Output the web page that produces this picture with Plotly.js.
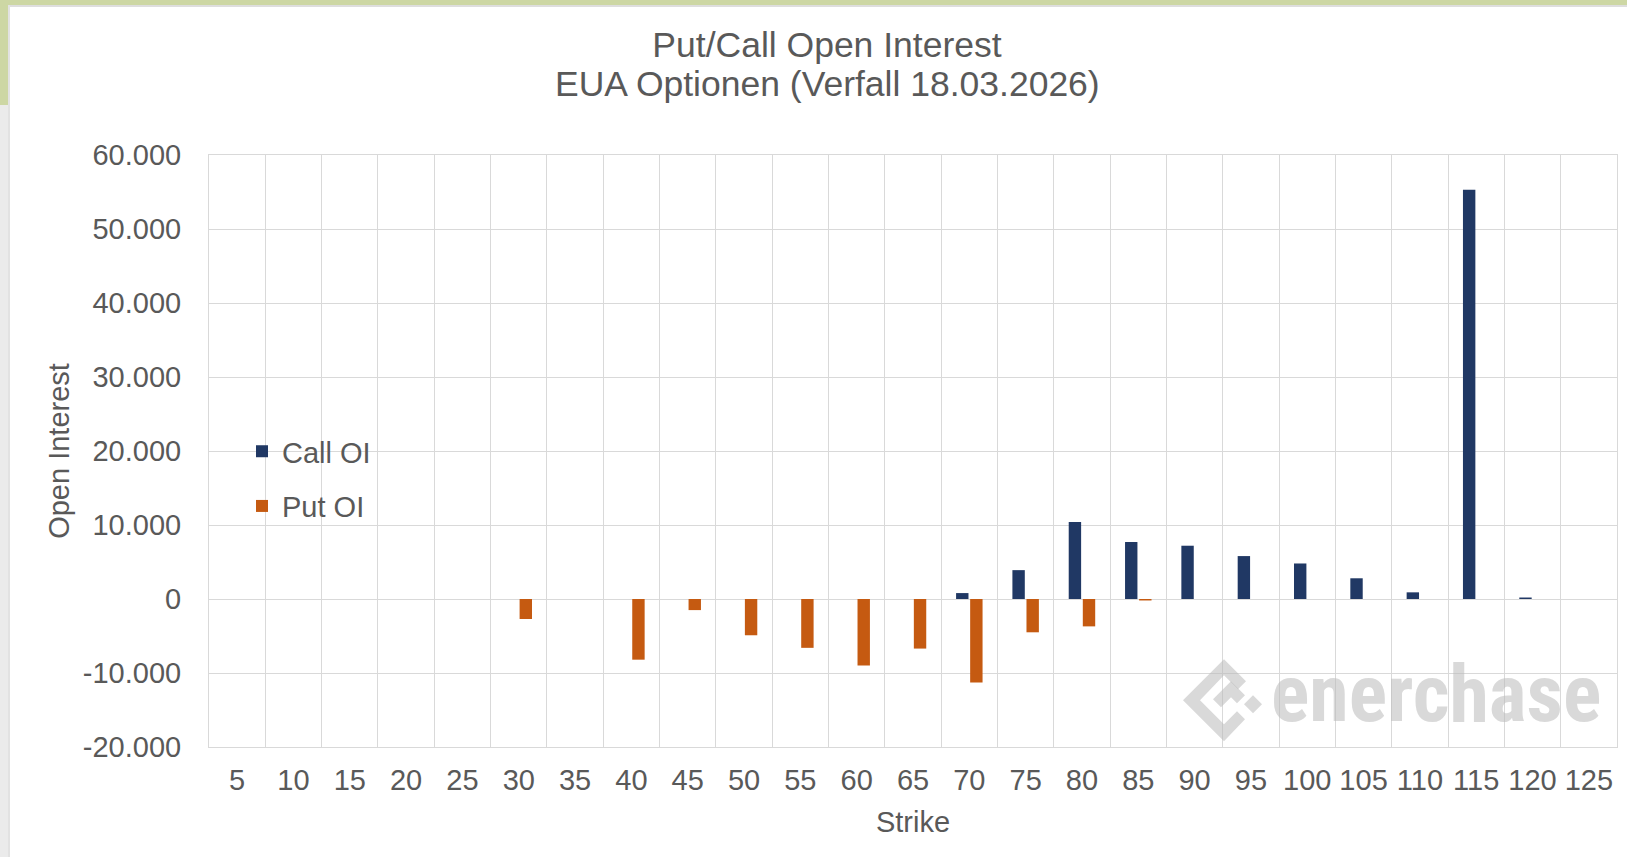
<!DOCTYPE html>
<html>
<head>
<meta charset="utf-8">
<script src="https://cdn.plot.ly/plotly-3.0.1.min.js"></script>
<style>
  html, body { margin: 0; padding: 0; background: #ffffff; }
  #wrap { position: relative; width: 1627px; height: 857px; overflow: hidden; background: #ffffff; }
  .deco { position: absolute; }
  #chart { position: absolute; left: 0; top: 0; width: 1627px; height: 857px; }
</style>
</head>
<body>
<div id="wrap">
  <div class="deco" style="left:0;top:0;width:1627px;height:5px;background:#cdd7a4;"></div>
  <div class="deco" style="left:0;top:5px;width:1627px;height:2px;background:#dedede;"></div>
  <div class="deco" style="left:0;top:0;width:8px;height:105px;background:#cdd7a4;"></div>
  <div class="deco" style="left:0;top:105px;width:8px;height:752px;background:#ebebeb;"></div>
  <div class="deco" style="left:8px;top:5px;width:2px;height:852px;background:#e2e2e2;"></div>
  <div id="chart"></div>
</div>
<script>
// ---- data ----
var strikes = ['5','10','15','20','25','30','35','40','45','50','55','60','65','70','75','80','85','90','95','100','105','110','115','120','125'];
var callOI  = [0,0,0,0,0,0,0,0,0,0,0,0,0,800,3900,10400,7700,7200,5800,4800,2800,900,55300,200,0];
var putOI   = [0,0,0,0,0,-2700,0,-8200,-1500,-4900,-6600,-9000,-6700,-11300,-4500,-3700,-200,0,0,0,0,0,0,0,0];
var yTickVals = [-20000,-10000,0,10000,20000,30000,40000,50000,60000];
var yTickText = ['-20.000','-10.000','0','10.000','20.000','30.000','40.000','50.000','60.000'];
var titleLine1 = 'Put/Call Open Interest';
var titleLine2 = 'EUA Optionen (Verfall 18.03.2026)';

// ---- layout geometry (pixels) ----
var W = 1627, H = 857;
var L = 209, R = 1617, T = 154.5, B = 746.7;
function px(x){ return (x - L) / (R - L); }
function py(y){ return (B - y) / (B - T); }

var textColor = '#595959';
var font = 'Liberation Sans, Arial, sans-serif';

var traces = [
  { type:'bar', name:'Call OI', x:strikes, y:callOI, marker:{color:'#203864'}, legendgroup:'a' },
  { type:'bar', name:'Put OI',  x:strikes, y:putOI,  marker:{color:'#c55a11'}, legendgroup:'b' }
];

// watermark logo polygons (decoration)
function poly(pts){
  var s = '';
  for (var i=0;i<pts.length;i++){ s += (i? 'L':'M') + px(pts[i][0]).toFixed(5) + ',' + py(pts[i][1]).toFixed(5); }
  return s + 'Z';
}
var logoColor = 'rgba(185,185,185,0.55)';
var logoShapes = [
  [[1224,659],[1246,681],[1238,689],[1224,675],[1200,700],[1224,724],[1237,711],[1245,719],[1224,741],[1183,700]],
  [[1213,699],[1231,681],[1245,695],[1237,703],[1231,697],[1221,707]],
  [[1253,695],[1262,704],[1253,713],[1244,704]]
].map(function(p){ return { type:'path', xref:'paper', yref:'paper', path: poly(p), fillcolor: logoColor, line:{width:0}, layer:'above' }; });

var layout = {
  width: W, height: H,
  paper_bgcolor: 'rgba(0,0,0,0)',
  plot_bgcolor: 'rgba(0,0,0,0)',
  margin: { l: L, r: W - R, t: T, b: H - B, pad: 0 },
  font: { family: font, color: textColor, size: 29 },
  title: { text: titleLine1, font:{ family: font, size: 35.5, color: textColor },
           x: 827/W, xref:'container', xanchor:'center', y: 1 - 45/H, yref:'container', yanchor:'middle' },
  barmode: 'group',
  bargap: 0.5,
  bargroupgap: 0.12,
  showlegend: true,
  legend: { x: px(242), xanchor:'left', y: py(478.5), yanchor:'middle', bgcolor:'rgba(0,0,0,0)',
            traceorder:'grouped', tracegroupgap: 14, font:{ family: font, size: 29, color: textColor } },
  xaxis: {
    type: 'category', tickson: 'boundaries', ticks: '', tickangle: 0,
    showgrid: true, gridcolor: '#d9d9d9', gridwidth: 1,
    showline: true, linecolor: '#d9d9d9', linewidth: 1, mirror: true,
    tickfont: { family: font, size: 29, color: textColor },
    ticklabelstandoff: 7,
    title: { text: 'Strike', font:{ family: font, size: 29, color: textColor }, standoff: 16 },
    fixedrange: true
  },
  yaxis: {
    range: [-20000, 60000], tickvals: yTickVals, ticktext: yTickText, ticks: '',
    showgrid: true, gridcolor: '#d9d9d9', gridwidth: 1,
    zeroline: true, zerolinecolor: '#d9d9d9', zerolinewidth: 1,
    showline: true, linecolor: '#d9d9d9', linewidth: 1, mirror: true,
    tickfont: { family: font, size: 29, color: textColor },
    ticklabelstandoff: 21,
    title: { text: 'Open Interest', font:{ family: font, size: 29, color: textColor }, standoff: 4 },
    fixedrange: true
  },
  annotations: [
    { text: titleLine2, xref:'paper', yref:'paper', x: (827 - L)/(R - L), y: py(83), xanchor:'center', yanchor:'middle',
      showarrow:false, font:{ family: font, size: 35.5, color: textColor } },
    { text: '<b>enerchase</b>', xref:'paper', yref:'paper', x: px(1436), y: py(694), xanchor:'center', yanchor:'middle',
      showarrow:false, font:{ family: 'Liberation Sans Narrow, Roboto Condensed, Arial Narrow, sans-serif', size: 80, color:'rgba(185,185,185,0.55)' } }
  ],
  shapes: logoShapes
};

Plotly.newPlot('chart', traces, layout, { displayModeBar: false, staticPlot: true });
</script>
</body>
</html>
